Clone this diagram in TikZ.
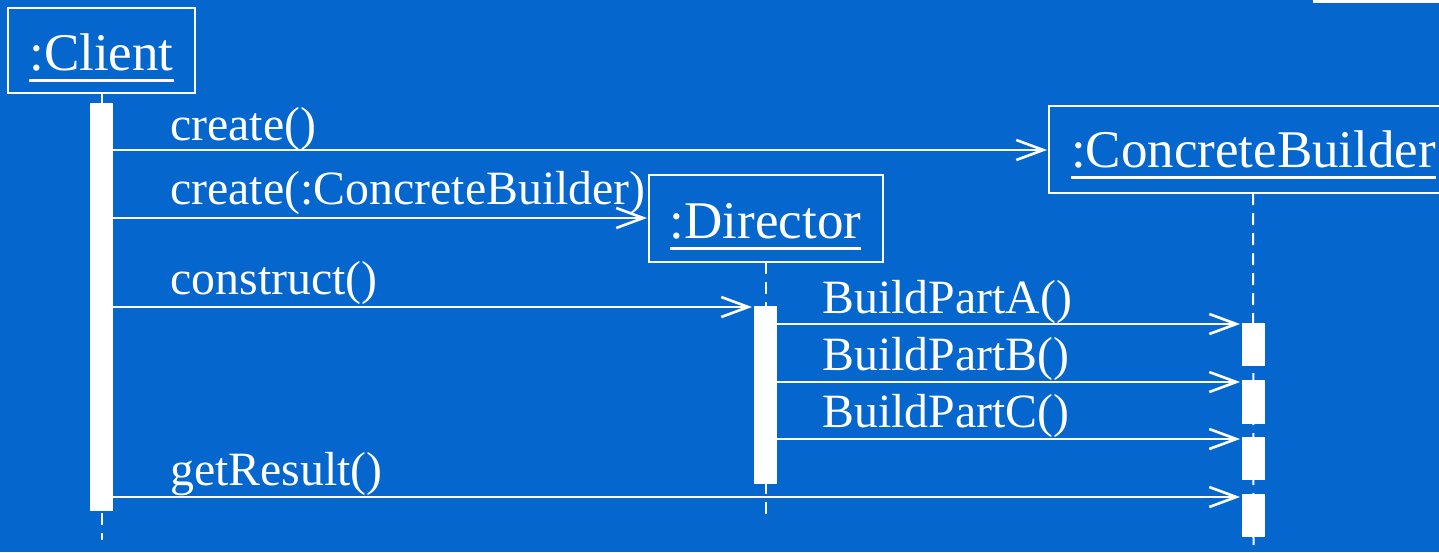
\documentclass[tikz,border=0pt]{standalone}
\usepackage{fontspec}
\setmainfont{Liberation Serif}
\usetikzlibrary{arrows.meta}
\definecolor{bgblue}{HTML}{0567CE}
\newcommand\ulbox[1]{\setbox0\hbox{#1}\rlap{\rule[-5.75pt]{\wd0}{1.5pt}}\box0}
\tikzset{
  objbox/.style={draw=white, line width=1.25pt, inner sep=0pt, outer sep=0pt},
  objtext/.style={text=white, inner sep=0pt, anchor=base, font=\fontsize{26.5pt}{30pt}\selectfont},
  msgtext/.style={text=white, inner sep=0pt, anchor=base west, font=\fontsize{23.9pt}{28pt}\selectfont},
  actbar/.style={fill=white, draw=none, inner sep=0pt, outer sep=0pt, minimum width=11.5pt},
  lifeline/.style={draw=white, line width=1pt, dash pattern=on 6pt off 4pt},
  msg/.style={draw=white, line width=1.3pt, -{Straight Barb[length=13.5pt, width=10pt, line width=1.3pt]}, shorten >=1pt}
}
\begin{document}
\begin{tikzpicture}[x=0.5pt, y=-0.5pt]
\useasboundingbox (0,0) rectangle (1439,552);
\fill[bgblue] (0,0) rectangle (1439,552);
\clip (0,0) rectangle (1439,552);

% object boxes
\node[objbox, minimum width=93.5pt, minimum height=42.5pt] (client) at (101.5,50.5) {};
\node[objtext] (clientlbl) at (101.5,70) {\ulbox{:Client}};
\node[objbox, minimum width=117pt, minimum height=43.5pt] (director) at (766,218.5) {};
\node[objtext] (directorlbl) at (765.5,238) {\ulbox{:Director}};
\node[objbox, minimum width=204pt, minimum height=43.5pt] (cb) at (1253,149.5) {};
\node[objtext] (cblbl) at (1253.5,167) {\ulbox{:ConcreteBuilder}};
\node[objbox, minimum width=100pt, minimum height=40pt, anchor=south west] (topbox) at (1314.5,1.5) {};

% lifelines
\coordinate (clientend) at (101.5,540);
\coordinate (directorend) at (766,517);
\coordinate (cbend) at (1253.5,552);
\draw[lifeline] (client.south) -- (clientend);
\draw[lifeline] (director.south) -- (directorend);
\draw[lifeline] (cb.south) -- (cbend);

% activation bars
\node[actbar, minimum height=204pt] (cact) at (101.5,307) {};
\node[actbar, minimum height=89pt] (dact) at (765.5,395) {};
\node[actbar, minimum height=21.5pt] (cbA) at (1253.5,344.5) {};
\node[actbar, minimum height=22pt] (cbB) at (1253.5,402) {};
\node[actbar, minimum height=21.5pt] (cbC) at (1253.5,458.5) {};
\node[actbar, minimum height=21.5pt] (cbD) at (1253.5,515.5) {};

% message levels
\coordinate (m1) at (0,150);
\coordinate (m2) at (0,218);
\coordinate (m3) at (0,307);
\coordinate (m4) at (0,324);
\coordinate (m5) at (0,382);
\coordinate (m6) at (0,439);
\coordinate (m7) at (0,497);

\draw[msg] (cact.east |- m1) -- (cb.west |- m1);
\draw[msg] (cact.east |- m2) -- (director.west |- m2);
\draw[msg] (cact.east |- m3) -- (dact.west |- m3);
\draw[msg] (dact.east |- m4) -- (cbA.west |- m4);
\draw[msg] (dact.east |- m5) -- (cbB.west |- m5);
\draw[msg] (dact.east |- m6) -- (cbC.west |- m6);
\draw[msg] (cact.east |- m7) -- (cbD.west |- m7);

% message labels
\node[msgtext] (l1) at (170,140) {create()};
\node[msgtext] (l2) at (170,204) {create(:ConcreteBuilder)};
\node[msgtext] (l3) at (170,294) {construct()};
\node[msgtext] (l4) at (822,313) {BuildPartA()};
\node[msgtext] (l5) at (822,370) {BuildPartB()};
\node[msgtext] (l6) at (822,427) {BuildPartC()};
\node[msgtext] (l7) at (170,485) {getResult()};
\end{tikzpicture}
\end{document}
